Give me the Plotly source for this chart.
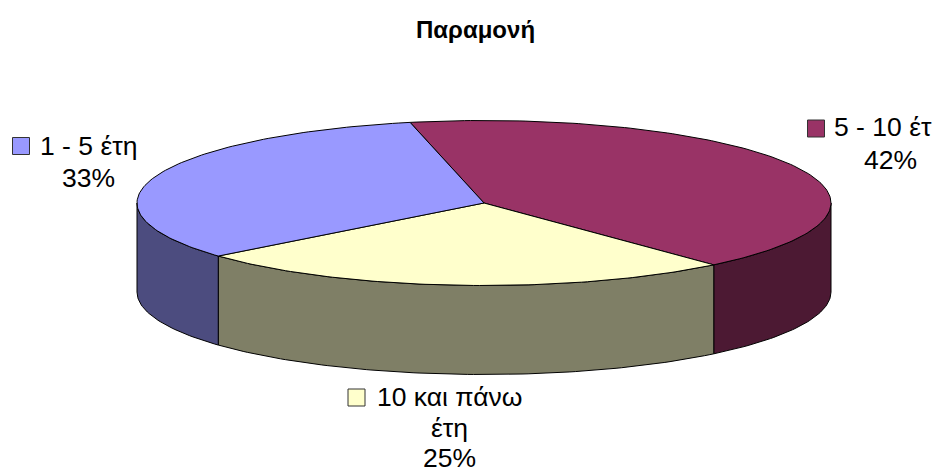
import math
import plotly.graph_objects as go

# Data
categories = ["5 - 10 έτη", "10 και πάνω έτη", "1 - 5 έτη"]
values = [41.9, 25.4, 32.7]
title_text = "Παραμονή"

# Styles
top_colors = ["#993366", "#FFFFCC", "#9999FF"]
side_colors = ["#4C1933", "#7F7F66", "#4C4C7F"]
FONT = "Liberation Sans, Arial, sans-serif"

# Projected pie geometry (canvas pixels)
CX, CY, RX, RY, DEPTH = 484, 203, 347, 82.5, 89
START = -12.3  # degrees clockwise from the top
N_PER_DEG = 1


def pt(t, dy=0.0):
    r = math.radians(t)
    return CX + RX * math.sin(r), CY - RY * math.cos(r) + dy


def arc(a, b, dy=0.0):
    n = max(2, int(abs(b - a) * N_PER_DEG) + 1)
    return [pt(a + (b - a) * i / (n - 1), dy) for i in range(n)]


total = sum(values)
spans = []
cur = START
for v in values:
    nxt = cur + v / total * 360
    spans.append((cur, nxt))
    cur = nxt

fig = go.Figure()


def poly(points, color, name, hover):
    fig.add_trace(go.Scatter(
        x=[p[0] for p in points] + [points[0][0]],
        y=[p[1] for p in points] + [points[0][1]],
        mode="lines", fill="toself", fillcolor=color,
        line=dict(color="#000000", width=1),
        name=name, hoverinfo="text", text=hover, showlegend=False,
    ))


# Side walls: only the front half of the rim (90..270 degrees) is visible
for (a, b), cat, v, col in zip(spans, categories, values, side_colors):
    lo, hi = max(a, 90), min(b, 270)
    if lo < hi:
        pts = arc(lo, hi) + arc(hi, lo, DEPTH)
        poly(pts, col, cat, f"{cat}: {round(v)}%")

# Top faces
for (a, b), cat, v, col in zip(spans, categories, values, top_colors):
    pts = [(CX, CY)] + arc(a, b)
    poly(pts, col, cat, f"{cat}: {round(v)}%")

# Legend-key swatches in the data labels
swatch_x = [816, 356.5, 21]
swatch_y = [128.5, 397.5, 146]
fig.add_trace(go.Scatter(
    x=swatch_x, y=swatch_y, mode="markers",
    marker=dict(symbol="square", size=17, color=top_colors,
                line=dict(color="#333333", width=1)),
    hoverinfo="skip", showlegend=False,
))

LABEL_SIZE = 26.5
labels = [
    ("5 - 10 έτ", 833, 127, "left"),
    (f"{round(values[0])}%", 890, 160, "center"),
    ("10 και πάνω", 376, 397, "left"),
    ("έτη", 449, 428, "center"),
    (f"{round(values[1])}%", 449, 458, "center"),
    ("1 - 5 έτη", 39, 146, "left"),
    (f"{round(values[2])}%", 88, 178, "center"),
]
annotations = [
    dict(x=x, y=y, text=t, showarrow=False, xref="x", yref="y",
         xanchor=anc, yanchor="middle", borderpad=0, align=anc,
         font=dict(family=FONT, size=LABEL_SIZE, color="#000000"))
    for t, x, y, anc in labels
]
annotations.append(dict(
    x=475, y=29, text=f"<b>{title_text}</b>", showarrow=False, xref="x", yref="y",
    xanchor="center", yanchor="middle",
    font=dict(family=FONT, size=24, color="#000000"),
))

fig.update_layout(
    width=940, height=472,
    margin=dict(l=0, r=0, t=0, b=0),
    paper_bgcolor="#FFFFFF", plot_bgcolor="#FFFFFF",
    xaxis=dict(range=[0, 940], visible=False, fixedrange=True),
    yaxis=dict(range=[472, 0], visible=False, fixedrange=True),
    showlegend=False,
    annotations=annotations,
)
fig.write_html(
    "out.html",
    config={"displayModeBar": False},
    post_script="document.body.style.margin='0';document.body.style.overflow='hidden';",
)
